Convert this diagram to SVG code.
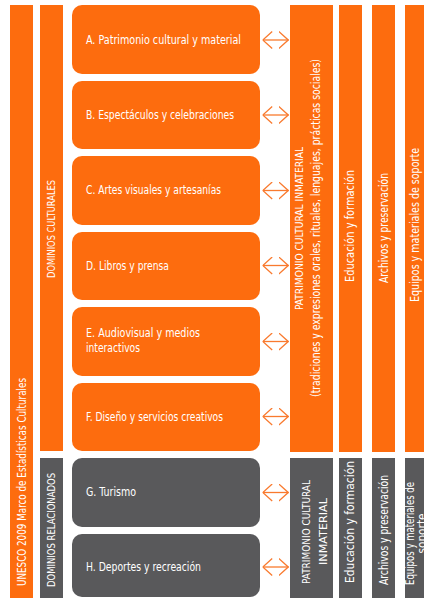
<svg xmlns="http://www.w3.org/2000/svg" width="424" height="598" viewBox="0 0 424 598">
<defs>
<style>
.o{fill:#FD6C0E}
.g{fill:#59595B}
text{fill:#FFFFFF;font-family:"Liberation Sans Narrow","DejaVu Sans Condensed","Roboto Condensed","Liberation Sans",sans-serif;}
.lb{font-size:12px}
.vt{font-size:12px;text-anchor:middle}
.vs{font-size:11px;text-anchor:middle}
.arr{stroke:#F97A2E;stroke-width:1.3;fill:none;marker-start:url(#h);marker-end:url(#h)}
</style>
<marker id="h" markerUnits="userSpaceOnUse" viewBox="0 0 10 18" refX="10" refY="9" markerWidth="10" markerHeight="18" orient="auto-start-reverse">
<path d="M0.3,0.5 L9.7,9 L0.3,17.5" fill="none" stroke="#F97A2E" stroke-width="1.3"/>
</marker>
</defs>
<rect width="424" height="598" fill="#FFFFFF"/>

<g id="framework">
<rect class="o" x="10" y="5" width="23" height="593"/>
<text class="vt" font-size="12.5" transform="translate(26,482) rotate(-90)" textLength="208" lengthAdjust="spacingAndGlyphs">UNESCO 2009 Marco de Estadísticas Culturales</text>
</g>

<g id="cultural-domains">
<rect class="o" x="40" y="5" width="23" height="446"/>
<text class="vs" transform="translate(55,229) rotate(-90)" textLength="98" lengthAdjust="spacingAndGlyphs">DOMINIOS CULTURALES</text>
</g>

<g id="related-domains">
<rect class="g" x="40" y="458" width="23" height="140"/>
<text class="vs" transform="translate(55,530) rotate(-90)" textLength="114" lengthAdjust="spacingAndGlyphs">DOMINIOS RELACIONADOS</text>
</g>

<g id="A">
<rect class="o" x="72" y="5" width="188" height="69" rx="10"/>
<text class="lb" x="86" y="44" textLength="155" lengthAdjust="spacingAndGlyphs">A. Patrimonio cultural y material</text>
</g>
<g id="B">
<rect class="o" x="72" y="81" width="188" height="68" rx="10"/>
<text class="lb" x="86" y="119" textLength="148" lengthAdjust="spacingAndGlyphs">B. Espectáculos y celebraciones</text>
</g>
<g id="C">
<rect class="o" x="72" y="156" width="188" height="69" rx="10"/>
<text class="lb" x="86" y="194" textLength="135" lengthAdjust="spacingAndGlyphs">C. Artes visuales y artesanías</text>
</g>
<g id="D">
<rect class="o" x="72" y="232" width="188" height="68" rx="10"/>
<text class="lb" x="86" y="270" textLength="83" lengthAdjust="spacingAndGlyphs">D. Libros y prensa</text>
</g>
<g id="E">
<rect class="o" x="72" y="307" width="188" height="69" rx="10"/>
<text class="lb" x="86" y="337" textLength="114" lengthAdjust="spacingAndGlyphs">E. Audiovisual y medios</text>
<text class="lb" x="86" y="352" textLength="54" lengthAdjust="spacingAndGlyphs">interactivos</text>
</g>
<g id="F">
<rect class="o" x="72" y="383" width="188" height="68" rx="10"/>
<text class="lb" x="86" y="421" textLength="137" lengthAdjust="spacingAndGlyphs">F. Diseño y servicios creativos</text>
</g>
<g id="G">
<rect class="g" x="72" y="458" width="188" height="69" rx="10"/>
<text class="lb" x="86" y="496" textLength="50" lengthAdjust="spacingAndGlyphs">G. Turismo</text>
</g>
<g id="H">
<rect class="g" x="72" y="534" width="188" height="63" rx="10"/>
<text class="lb" x="86" y="571" textLength="115" lengthAdjust="spacingAndGlyphs">H. Deportes y recreación</text>
</g>

<g id="connectors">
<line class="arr" x1="262.5" y1="40" x2="288.5" y2="40"/>
<line class="arr" x1="262.5" y1="115" x2="288.5" y2="115"/>
<line class="arr" x1="262.5" y1="190.5" x2="288.5" y2="190.5"/>
<line class="arr" x1="262.5" y1="265.5" x2="288.5" y2="265.5"/>
<line class="arr" x1="262.5" y1="341.5" x2="288.5" y2="341.5"/>
<line class="arr" x1="262.5" y1="416.5" x2="288.5" y2="416.5"/>
<line class="arr" x1="262.5" y1="492.5" x2="288.5" y2="492.5"/>
<line class="arr" x1="262.5" y1="567" x2="288.5" y2="567"/>
</g>

<g id="intangible-heritage">
<rect class="o" x="290" y="5" width="43" height="447"/>
<text class="vs" font-size="10.5" transform="translate(303,228.5) rotate(-90)" textLength="163" lengthAdjust="spacingAndGlyphs">PATRIMONIO CULTURAL INMATERIAL</text>
<text class="vt" transform="translate(320,228) rotate(-90)" textLength="338" lengthAdjust="spacingAndGlyphs">(tradiciones y expresiones orales, rituales, lenguajes, prácticas sociales)</text>
</g>
<g id="education">
<rect class="o" x="339" y="5" width="23" height="447"/>
<text class="vt" transform="translate(354,226) rotate(-90)" textLength="112" lengthAdjust="spacingAndGlyphs">Educación y formación</text>
</g>
<g id="archiving">
<rect class="o" x="372" y="5" width="23" height="447"/>
<text class="vt" transform="translate(388,228) rotate(-90)" textLength="110" lengthAdjust="spacingAndGlyphs">Archivos y preservación</text>
</g>
<g id="equipment">
<rect class="o" x="405" y="5" width="25" height="447"/>
<text class="vt" font-size="12.5" transform="translate(419,225) rotate(-90)" textLength="154" lengthAdjust="spacingAndGlyphs">Equipos y materiales de soporte</text>
</g>

<g id="intangible-heritage-related">
<rect class="g" x="290" y="458" width="43" height="140"/>
<text class="vs" font-size="10.5" transform="translate(310,532) rotate(-90)" textLength="104" lengthAdjust="spacingAndGlyphs">PATRIMONIO CULTURAL</text>
<text class="vs" font-size="10.5" transform="translate(327,531.5) rotate(-90)" textLength="67" lengthAdjust="spacingAndGlyphs">INMATERIAL</text>
</g>
<g id="education-related">
<rect class="g" x="339" y="458" width="23" height="140"/>
<text class="vt" transform="translate(354,522) rotate(-90)" textLength="122" lengthAdjust="spacingAndGlyphs">Educación y formación</text>
</g>
<g id="archiving-related">
<rect class="g" x="372" y="458" width="23" height="140"/>
<text class="vt" transform="translate(388,530) rotate(-90)" textLength="110" lengthAdjust="spacingAndGlyphs">Archivos y preservación</text>
</g>
<g id="equipment-related">
<rect class="g" x="405" y="458" width="25" height="140"/>
<text class="vt" transform="translate(414,533.5) rotate(-90)" textLength="103" lengthAdjust="spacingAndGlyphs">Equipos y materiales de</text>
<text class="vt" transform="translate(426,533.5) rotate(-90)" textLength="40" lengthAdjust="spacingAndGlyphs">soporte</text>
</g>
</svg>
